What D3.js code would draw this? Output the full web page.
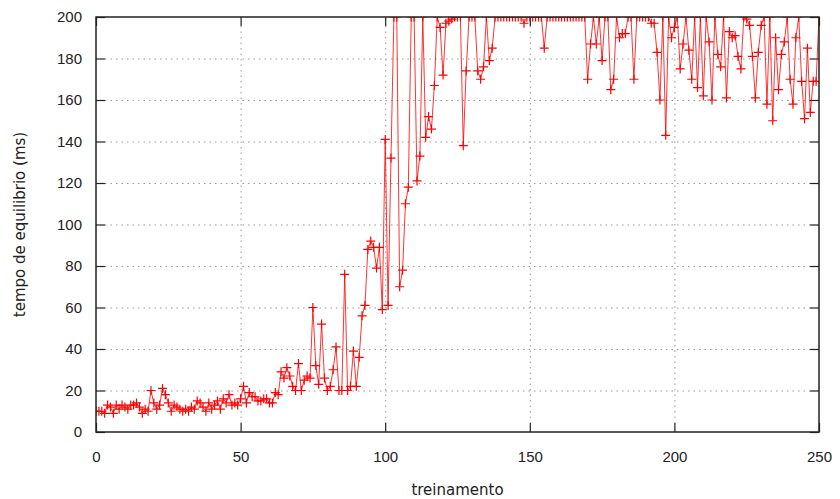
<!DOCTYPE html>
<html>
<head>
<meta charset="utf-8">
<script src="https://cdn.jsdelivr.net/npm/d3@7"></script>
<style>
  body { margin: 0; background: #fff; }
  svg { display: block; font-family: "DejaVu Sans", sans-serif; }
</style>
</head>
<body>
<svg id="chart"></svg>
<script>
// tempo de equilibrio por treinamento (x = 0..250)
const tempos0 = [10, 10, 10, 9, 13, 12, 9, 13, 11, 13, 12, 11, 13, 13, 14, 12, 9, 11, 10, 20,
    14, 11, 13, 21, 18, 14, 10, 13, 12, 11, 10, 11, 10, 12, 11, 15, 14, 12, 10, 14,
    11, 13, 15, 11, 16, 14, 18, 13, 14, 13];
const tempos50 = [16, 22, 14, 19, 17, 17, 15, 15, 16, 16, 14, 14, 19, 18, 29, 26, 31, 27, 22, 20,
    33, 20, 25, 27, 26, 60, 32, 23, 52, 26, 20, 22, 30, 41, 20, 20, 76, 20, 22, 39,
    22, 36, 56, 61, 88, 92, 89, 79, 89, 59];
const tempos100 = [141, 61, 132, 200, 200, 70, 78, 110, 118, 200, 200, 121, 133, 200, 142, 152, 146, 167, 200, 195,
    172, 197, 198, 199, 200, 200, 200, 138, 174, 200, 200, 200, 174, 170, 176, 200, 179, 185, 200, 200,
    200, 200, 200, 200, 200, 200, 200, 200, 197, 200];
const tempos150 = [200, 200, 200, 200, 200, 185, 200, 200, 200, 200, 200, 200, 200, 200, 200, 200, 200, 200, 200, 200,
    170, 187, 200, 187, 200, 179, 200, 200, 165, 170, 200, 190, 192, 192, 200, 200, 170, 200, 200, 200,
    200, 200, 197, 197, 183, 160, 200, 143, 200, 190];
const tempos200 = [195, 200, 175, 187, 200, 184, 170, 200, 166, 200, 162, 200, 188, 160, 200, 182, 176, 200, 161, 193,
    190, 191, 181, 175, 200, 199, 196, 181, 161, 183, 196, 200, 158, 200, 150, 190, 165, 182, 188, 200,
    170, 158, 190, 200, 169, 151, 185, 154, 169, 169, 200];

const tempos = [...tempos0, ...tempos50, ...tempos100, ...tempos150, ...tempos200];
const xTicks = [0, 50, 100, 150, 200, 250];
const yTicks = [0, 20, 40, 60, 80, 100, 120, 140, 160, 180, 200];

const width = 840, height = 499;
const margin = { top: 17, right: 21, bottom: 67, left: 96 };
const w = width - margin.left - margin.right;
const h = height - margin.top - margin.bottom;

const svg = d3.select("#chart").attr("width", width).attr("height", height);
const g = svg.append("g").attr("transform", `translate(${margin.left},${margin.top})`);

const x = d3.scaleLinear().domain([0, 250]).range([0, w]);
const y = d3.scaleLinear().domain([0, 200]).range([h, 0]);

const tickLen = 9;

// grade pontilhada
g.append("g").selectAll("line")
    .data(yTicks.slice(1, -1))
    .join("line")
    .attr("x1", tickLen).attr("x2", w - tickLen)
    .attr("y1", d => y(d) + 0.5).attr("y2", d => y(d) + 0.5)
    .attr("stroke", "#999").attr("stroke-width", 1)
    .attr("stroke-dasharray", "1.5,4");
g.append("g").selectAll("line")
    .data(xTicks.slice(1, -1))
    .join("line")
    .attr("y1", tickLen).attr("y2", h - tickLen)
    .attr("x1", d => x(d) + 0.5).attr("x2", d => x(d) + 0.5)
    .attr("stroke", "#999").attr("stroke-width", 1)
    .attr("stroke-dasharray", "1.5,4");

// eixos (ticks para dentro)
const axisStyle = sel => {
    sel.select(".domain").remove();
    sel.selectAll(".tick line").attr("stroke", "#222").attr("stroke-width", 1.2);
    sel.selectAll(".tick text").attr("fill", "#222").style("font-size", "15px");
};
g.append("g").attr("transform", `translate(0,${h})`)
    .call(d3.axisBottom(x).tickValues(xTicks).tickSizeInner(-tickLen).tickPadding(19))
    .call(axisStyle);
g.append("g")
    .call(d3.axisLeft(y).tickValues(yTicks).tickSizeInner(-tickLen).tickPadding(14))
    .call(axisStyle);
g.append("g")
    .call(d3.axisTop(x).tickValues(xTicks).tickSizeInner(-tickLen).tickFormat(""))
    .call(axisStyle);
g.append("g").attr("transform", `translate(${w},0)`)
    .call(d3.axisRight(y).tickValues(yTicks).tickSizeInner(-tickLen).tickFormat(""))
    .call(axisStyle);

// dados
svg.append("clipPath").attr("id", "clip")
    .append("rect").attr("width", w).attr("height", h);
const plot = g.append("g").attr("clip-path", "url(#clip)");

const line = d3.line().x((d, i) => x(i)).y(d => y(d));
plot.append("path")
    .datum(tempos)
    .attr("fill", "none")
    .attr("stroke", "#ff0000")
    .attr("stroke-opacity", 0.8)
    .attr("stroke-width", 1)
    .attr("d", line);

const cross = 4.5;
plot.append("g").selectAll("path")
    .data(tempos)
    .join("path")
    .attr("d", (d, i) => `M${x(i) - cross},${y(d)}h${2 * cross}M${x(i)},${y(d) - cross}v${2 * cross}`)
    .attr("stroke", "#ff0000")
    .attr("stroke-width", 1.2);

// moldura
g.append("rect")
    .attr("width", w).attr("height", h)
    .attr("fill", "none").attr("stroke", "#222").attr("stroke-width", 1.5);

// rótulos
svg.append("text")
    .attr("x", margin.left + w / 2).attr("y", 495)
    .attr("text-anchor", "middle").attr("fill", "#222").style("font-size", "15px")
    .text("treinamento");
svg.append("text")
    .attr("transform", `translate(25,${margin.top + h / 2}) rotate(-90)`)
    .attr("text-anchor", "middle").attr("fill", "#222").style("font-size", "15px")
    .text("tempo de equilibrio (ms)");
</script>
</body>
</html>
